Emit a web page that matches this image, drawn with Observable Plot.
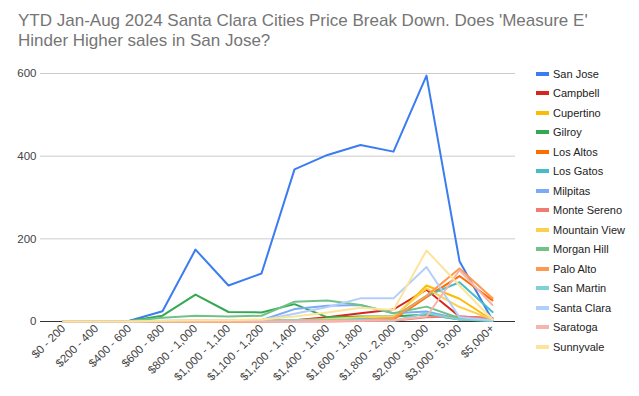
<!DOCTYPE html>
<html><head><meta charset="utf-8">
<script src="https://cdn.jsdelivr.net/npm/d3@7"></script>
<script src="https://cdn.jsdelivr.net/npm/@observablehq/plot@0.6"></script>
<style>
body{margin:0;background:#fff;font-family:"Liberation Sans",Arial,sans-serif;}
#wrap{position:relative;width:639px;height:396px;overflow:hidden;background:#fff}
#chart{position:absolute;left:0;top:0}
#title{position:absolute;left:18px;top:11px;font-size:17px;color:#757575;line-height:20px;}
#legend{position:absolute;left:536px;top:64px;}
.item{display:flex;align-items:center;height:19.5px;font-size:11px;color:#222;white-space:nowrap}
.sw{width:13px;height:4px;margin-right:4px}
</style></head><body>
<div id="wrap"><div id="chart"></div>
<div id="title">YTD Jan-Aug 2024 Santa Clara Cities Price Break Down. Does 'Measure E'<br>Hinder Higher sales in San Jose?</div>
<div id="legend"></div></div>
<script>
const categories = ["$0 - 200","$200 - 400","$400 - 600","$600 - 800","$800 - 1,000","$1,000 - 1,100","$1,100 - 1,200","$1,200 - 1,400","$1,400 - 1,600","$1,600 - 1,800","$1,800 - 2,000","$2,000 - 3,000","$3,000 - 5,000","$5,000+"];
const cities = ["San Jose","Campbell","Cupertino","Gilroy","Los Altos","Los Gatos","Milpitas","Monte Sereno","Mountain View","Morgan Hill","Palo Alto","San Martin","Santa Clara","Saratoga","Sunnyvale"];
const colors = ["#3b7cf0","#d9251c","#fbbc04","#34a853","#ff6d01","#46bdc6","#7baaf7","#f07b72","#fcd04f","#71c287","#ff994d","#7ed1d7","#b3cefb","#f7b4ae","#fde49b"];
const yTicks = [0,200,400,600];

const sanJose      = [0,0,2,25,174,87,116,368,403,427,411,595,146,3];
const campbell     = [0,0,0,0,1,1,2,3,10,20,29,77,12,8];
const cupertino    = [0,0,0,0,0,0,1,2,3,5,8,87,55,3];
const gilroy       = [0,0,1,14,65,23,22,42,10,12,12,17,5,1];
const losAltos     = [0,0,0,0,0,0,0,1,2,3,5,59,110,51];
const losGatos     = [0,0,0,0,1,1,1,3,5,8,10,62,95,23];
const milpitas     = [0,0,0,1,2,2,3,30,38,40,20,24,6,2];
const monteSereno  = [0,0,0,0,0,0,0,0,0,1,2,10,12,8];
const mountainView = [0,0,0,0,0,1,1,3,6,10,12,80,35,5];
const morganHill   = [0,0,1,9,14,12,14,48,51,40,20,36,8,2];
const paloAlto     = [0,0,0,0,0,0,0,1,2,4,8,62,128,56];
const sanMartin    = [0,0,0,0,1,1,1,3,3,4,2,20,5,2];
const santaClara   = [0,0,0,2,3,3,3,19,35,56,56,132,10,3];
const saratoga     = [0,0,0,0,0,0,0,0,1,2,3,12,124,40];
const sunnyvale    = [0,0,0,2,3,3,5,12,22,33,28,172,87,5];

const series = [sanJose,campbell,cupertino,gilroy,losAltos,losGatos,milpitas,monteSereno,mountainView,morganHill,paloAlto,sanMartin,santaClara,saratoga,sunnyvale];
const data = [];
cities.forEach((c,i)=>series[i].forEach((v,j)=>data.push({city:c,cat:categories[j],value:v})));

const chart = Plot.plot({
  width:639, height:396,
  marginLeft:40, marginRight:124, marginTop:73, marginBottom:75,
  style:{fontFamily:"'Liberation Sans',Arial,sans-serif",fontSize:"11px",color:"#444",background:"transparent"},
  x:{type:"point",domain:categories,padding:0.5,align:0.5},
  y:{domain:[0,600]},
  color:{domain:cities,range:colors},
  marks:[
    Plot.ruleY(yTicks.filter(d=>d>0),{stroke:"#cccccc",strokeWidth:1}),
    Plot.axisY({ticks:yTicks,tickSize:0,tickPadding:4,label:null,fill:"#444",fontSize:11.5}),
    Plot.axisX({ticks:categories,tickSize:0,tickPadding:5,tickRotate:-45,label:null,fill:"#444",fontSize:11.5}),
    Plot.ruleY([0],{stroke:"#333",strokeWidth:1}),
    Plot.line(data,{x:"cat",y:"value",z:"city",stroke:"city",strokeWidth:2,strokeLinejoin:"round"})
  ]
});
document.getElementById("chart").appendChild(chart);

const lg = document.getElementById("legend");
cities.forEach((c,i)=>{
  const it=document.createElement("div");it.className="item";
  const sw=document.createElement("span");sw.className="sw";sw.style.background=colors[i];
  const t=document.createElement("span");t.textContent=c;
  it.appendChild(sw);it.appendChild(t);lg.appendChild(it);
});
</script>
</body></html>
